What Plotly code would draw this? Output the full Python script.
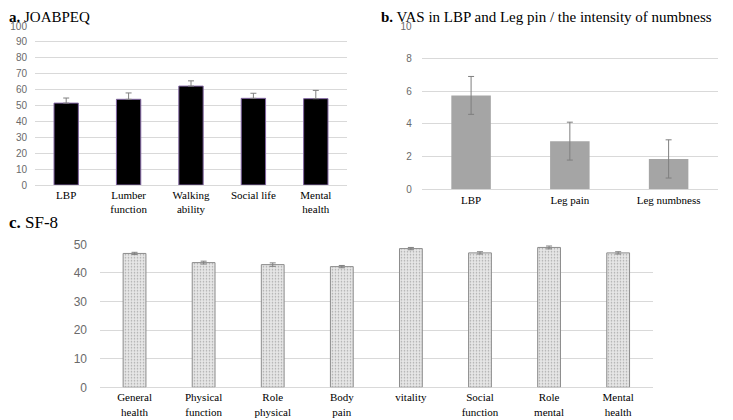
import plotly.graph_objects as go

# Panel a: JOABPEQ
joa_cats = ["LBP", "Lumber<br>function", "Walking<br>ability", "Social life", "Mental<br>health"]
joa_vals = [51.5, 53.9, 62.2, 54.5, 54.3]
joa_sd = [3.2, 4.0, 3.3, 3.2, 5.2]

# Panel b: VAS
vas_cats = ["LBP", "Leg pain", "Leg numbness"]
vas_vals = [5.75, 2.95, 1.86]
vas_sd = [1.16, 1.16, 1.17]

# Panel c: SF-8
sf_cats = ["General<br>health", "Physical<br>function", "Role<br>physical", "Body<br>pain",
           "vitality", "Social<br>function", "Role<br>mental", "Mental<br>health"]
sf_vals = [46.8, 43.6, 42.9, 42.2, 48.5, 47.0, 48.9, 47.0]
sf_sd = [0.4, 0.5, 0.6, 0.4, 0.4, 0.4, 0.5, 0.4]

serif = "Liberation Serif"
sans = "Liberation Sans"

OFF = 8          # page body margin in the 733x420 window
W, H = 725, 412  # figure fills the window from the body margin to the window edges

fig = go.Figure()

fig.add_trace(go.Bar(
    x=joa_cats, y=joa_vals, xaxis="x", yaxis="y", width=0.39,
    marker=dict(color="black", line=dict(color="#8064A2", width=1)),
    error_y=dict(type="data", symmetric=False, array=joa_sd, arrayminus=[0]*len(joa_sd),
                 color="#808080", thickness=1, width=3),
    showlegend=False))

fig.add_trace(go.Bar(
    x=vas_cats, y=vas_vals, xaxis="x2", yaxis="y2", width=0.4,
    marker=dict(color="#A5A5A5", line=dict(width=0)),
    error_y=dict(type="data", array=vas_sd, color="#7f7f7f", thickness=1, width=3),
    showlegend=False))

fig.add_trace(go.Bar(
    x=sf_cats, y=sf_vals, xaxis="x3", yaxis="y3", width=0.33,
    marker=dict(color="#e4e4e4", line=dict(color="#8c8c8c", width=1),
                pattern=dict(shape=".", fgcolor="#666666", bgcolor="#e6e6e6", size=3, solidity=0.22)),
    error_y=dict(type="data", array=sf_sd, color="#808080", thickness=1, width=3),
    showlegend=False))

xtick_font = dict(family=serif, size=11, color="black")
grid = "#d9d9d9"

def yax(domain, rng, dtick, anchor, fsize, standoff):
    return dict(domain=domain, range=rng, dtick=dtick, anchor=anchor, showgrid=True,
                gridcolor=grid, gridwidth=1, zeroline=True, zerolinecolor=grid,
                zerolinewidth=1, showline=False, ticks="", automargin=False,
                tickfont=dict(family=sans, size=fsize, color="#6a6a6a"),
                ticklabelstandoff=standoff, fixedrange=True)

def xax(domain, anchor, standoff):
    return dict(domain=domain, anchor=anchor, showgrid=False, showline=False, ticks="",
                automargin=False, tickfont=xtick_font, tickangle=0, ticklabelstandoff=standoff)

def px(x0, x1):
    return [(x0 - OFF) / W, (x1 - OFF) / W]

def py(ybot, ytop):
    return [1 - (ybot - OFF) / H, 1 - (ytop - OFF) / H]

fig.update_layout(
    width=W, height=H,
    margin=dict(l=0, r=0, t=0, b=0, autoexpand=False),
    paper_bgcolor="white", plot_bgcolor="white",
    xaxis=xax(px(35, 347), "y", 2),
    yaxis=yax(py(185, 26), [0, 100], 10, "x", 10, 7),
    xaxis2=xax(px(421.7, 718), "y2", 3),
    yaxis2=yax(py(189.3, 26), [0, 10], 2, "x2", 10, 9),
    xaxis3=xax(px(100, 652.7), "y3", 2),
    yaxis3=yax(py(387.3, 244.3), [0, 50], 10, "x3", 12, 12),
    annotations=[
        dict(text="<b>a.</b> JOABPEQ", x=0, y=1, xref="paper", yref="paper", borderpad=0,
             xanchor="left", yanchor="top", showarrow=False, font=dict(family=serif, size=15, color="black")),
        dict(text="<b>b.</b> VAS in LBP and Leg pin / the intensity of numbness", x=(380 - OFF) / W, y=1,
             xref="paper", yref="paper", xanchor="left", yanchor="top", showarrow=False, borderpad=0,
             font=dict(family=serif, size=15, color="black")),
        dict(text="<b>c.</b> SF-8", x=0, y=1 - (212 - OFF) / H, xref="paper", yref="paper", borderpad=0,
             xanchor="left", yanchor="top", showarrow=False, font=dict(family=serif, size=17, color="black")),
    ],
)

fig.write_html("out.html")
